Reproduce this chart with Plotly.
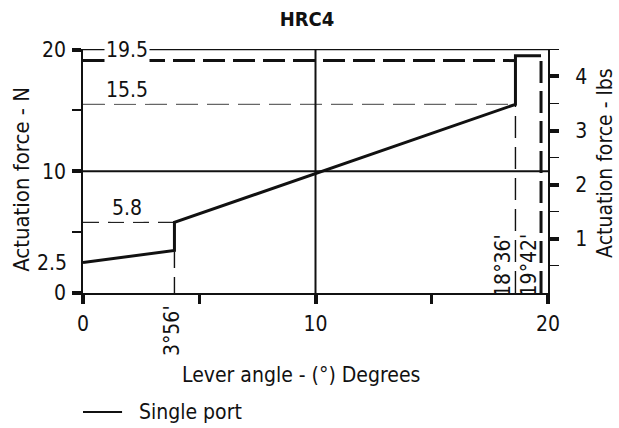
import plotly.graph_objects as go

FONT = "DejaVu Sans Condensed, DejaVu Sans, sans-serif"
N_PER_LB = 4.448

# actuation curve (lever angle in degrees, force in N)
curve_x = [0, 3.933, 3.933, 18.6, 18.6, 19.7]
curve_y = [2.5, 3.5, 5.8, 15.5, 19.5, 19.5]

# step angles and their labels
step_angles = [3.933, 18.6, 19.7]
step_labels = ["3°56'", "18°36'", "19°42'"]
step_tops = [3.5, 15.5, 19.5]

# horizontal guide levels and labels
guide_levels = [5.8, 15.5, 19.1]
guide_labels = ["5.8", "15.5", "19.5"]
guide_ends = [3.933, 18.6, 18.6]

x_ticks = [0, 10, 20]
x_minor = [5, 15]
n_ticks = [0, 10, 20]
n_minor = [5, 15]
lb_ticks = [1, 2, 3, 4]
lb_minor = [0.5, 1.5, 2.5, 3.5, 4.5]

Y_TOP = 20.05
FS = 21

fig = go.Figure()

# guide lines
hstyles = [dict(color="#222", width=1.4, dash="16px,9px"),
           dict(color="#666", width=1.4, dash="22px,9px"),
           dict(color="#111", width=3, dash="22px,8px")]
for lvl, end, st in zip(guide_levels, guide_ends, hstyles):
    fig.add_trace(go.Scatter(x=[0, end], y=[lvl, lvl], mode="lines", line=st,
                             showlegend=False, hoverinfo="skip"))
vstyles = [dict(color="#111", width=1.4, dash="16px,9px"),
           dict(color="#111", width=1.4, dash="22px,9px"),
           dict(color="#111", width=3, dash="22px,8px")]
for ang, top, st in zip(step_angles, step_tops, vstyles):
    fig.add_trace(go.Scatter(x=[ang, ang], y=[0, top], mode="lines", line=st,
                             showlegend=False, hoverinfo="skip"))

# main curve
fig.add_trace(go.Scatter(x=curve_x, y=curve_y, mode="lines",
                         line=dict(color="#111", width=3), name="Single port",
                         showlegend=False))

# invisible trace for right axis
fig.add_trace(go.Scatter(x=[0], y=[0], yaxis="y2", mode="lines",
                         line=dict(width=0), showlegend=False, hoverinfo="skip"))

shapes = [
    dict(type="line", xref="x", yref="y", x0=0, x1=20, y0=20, y1=20,
         line=dict(color="#111", width=1.3)),
    dict(type="line", xref="x", yref="y", x0=0, x1=20, y0=10, y1=10,
         line=dict(color="#111", width=2)),
    dict(type="line", xref="x", yref="y", x0=10, x1=10, y0=0, y1=20,
         line=dict(color="#111", width=2)),
    # legend sample
    dict(type="line", xref="paper", yref="paper", x0=0, x1=0.084, y0=-0.488, y1=-0.488,
         line=dict(color="#111", width=2)),
]

def note(x, y, text, xref="paper", yref="paper", angle=0, xanchor="center", bg=None, size=FS):
    return dict(x=x, y=y, xref=xref, yref=yref, text=text, textangle=angle,
                xanchor=xanchor, yanchor="middle", showarrow=False,
                bgcolor=bg, font=dict(size=size))

ann = []
for lab, y in zip(guide_labels, [7.0, 16.7, 20.0]):
    ann.append(note(1.9, y, lab, "x", "y", bg="white"))
ann.append(note(3.83, -0.156, step_labels[0], "x", "paper", -90))
ann.append(note(18.06, 2.3, step_labels[1], "x", "y", -90))
ann.append(note(19.2, 2.3, step_labels[2], "x", "y", -90))
ann.append(note(-0.03, 2.5, "2.5", "paper", "y", xanchor="right"))
ann.append(note(0.469, -0.337, "Lever angle - (°) Degrees"))
ann.append(note(-0.131, 0.464, "Actuation force - N", angle=-90, size=22))
ann.append(note(1.123, 0.534, "Actuation force - lbs", angle=-90, size=21))
ann.append(note(0.116, -0.488, "Single port", xanchor="left"))

fig.update_layout(
    width=619, height=428,
    margin=dict(l=83, r=71, t=49, b=135),
    paper_bgcolor="white", plot_bgcolor="white",
    font=dict(family=FONT, size=FS, color="#111"),
    title=dict(text="<b>HRC4</b>", x=0.496, xanchor="center", y=0.956, yanchor="middle",
               font=dict(size=20)),
    xaxis=dict(range=[0, 20], tickvals=x_ticks, ticks="outside", ticklen=9, tickwidth=4,
               tickcolor="#111", showline=True, linecolor="#111", linewidth=2,
               showgrid=False, zeroline=False, ticklabelstandoff=2,
               minor=dict(tickvals=x_minor, ticks="outside", ticklen=9, tickwidth=2.5,
                          tickcolor="#111")),
    yaxis=dict(range=[0, Y_TOP], tickvals=n_ticks, ticks="outside", ticklen=9, tickwidth=4,
               tickcolor="#111", showline=True, linecolor="#111", linewidth=1.5,
               showgrid=False, zeroline=False, ticklabelstandoff=2,
               minor=dict(tickvals=n_minor, ticks="outside", ticklen=9, tickwidth=1.5,
                          tickcolor="#111")),
    yaxis2=dict(range=[0, Y_TOP / N_PER_LB], overlaying="y", side="right",
                tickvals=lb_ticks, ticks="outside", ticklen=9, tickwidth=3.5,
                tickcolor="#111", showline=True, linecolor="#111", linewidth=2,
                showgrid=False, zeroline=False, ticklabelstandoff=12,
                minor=dict(tickvals=lb_minor, ticks="outside", ticklen=9, tickwidth=1.2,
                           tickcolor="#111")),
    shapes=shapes,
    annotations=ann,
    showlegend=False,
)

fig.write_html("out.html", config={"displayModeBar": False},
               post_script="document.body.style.margin='0';")
